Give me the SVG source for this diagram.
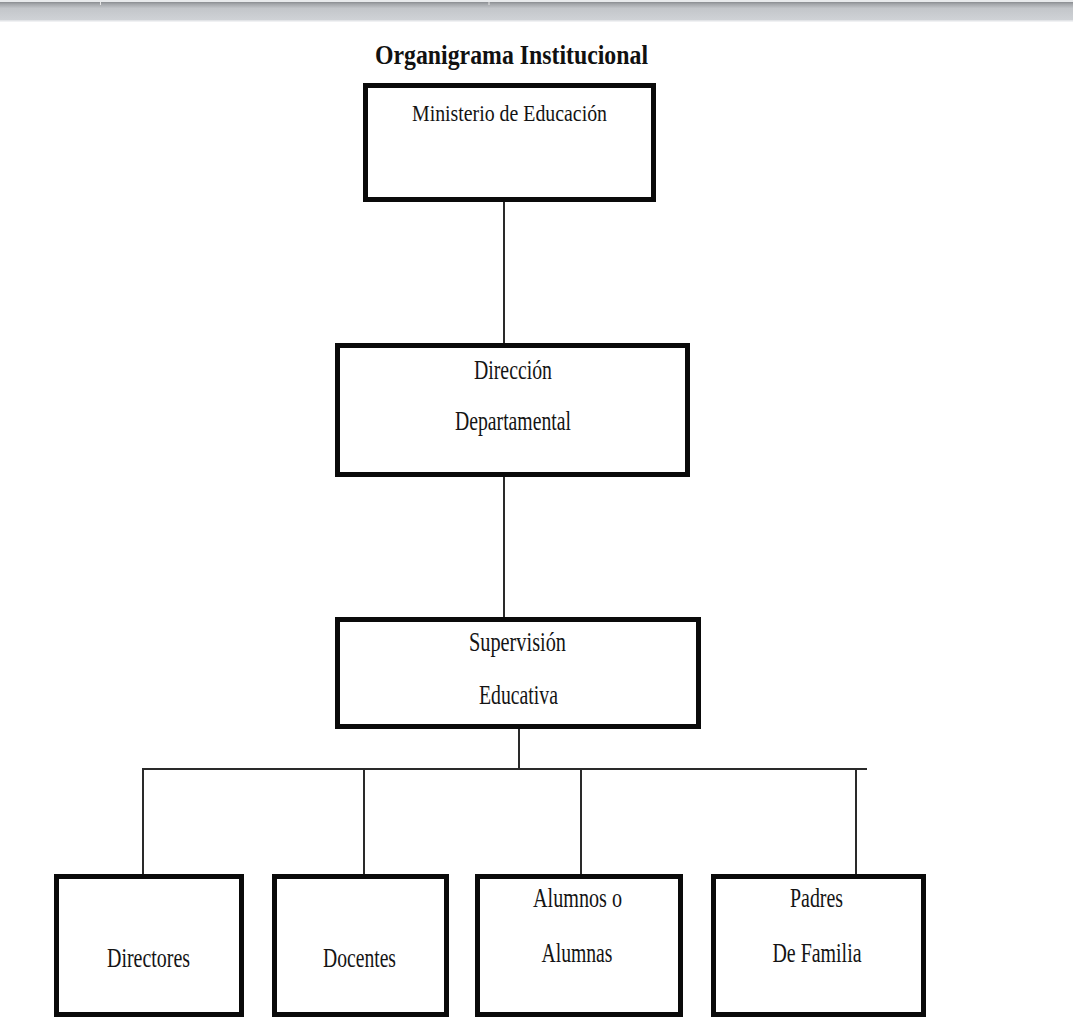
<svg xmlns="http://www.w3.org/2000/svg" width="1073" height="1018" viewBox="0 0 1073 1018">
<style>
  .box { fill: #ffffff; stroke: #0a0a0a; stroke-width: 5; }
  .lbl { font-family: "Liberation Serif", "Times New Roman", serif; font-size: 27px; fill: #141414; text-anchor: middle; }
  .title { font-family: "Liberation Serif", "Times New Roman", serif; font-size: 28px; font-weight: bold; fill: #111111; text-anchor: middle; }
  .conn { stroke: #2a2a2a; stroke-width: 2; fill: none; }
</style>
<defs>
  <linearGradient id="barGrad" x1="0" y1="0" x2="0" y2="1">
    <stop offset="0" stop-color="#8a8d91"/>
    <stop offset="0.12" stop-color="#a4a7ab"/>
    <stop offset="0.35" stop-color="#c3c6ca"/>
    <stop offset="1" stop-color="#cfd2d6"/>
  </linearGradient>
</defs>
<rect x="0" y="0" width="1073" height="1018" fill="#ffffff"/>
<g id="topbar">
  <rect x="0" y="0" width="1073" height="2" fill="#e8eaec"/>
  <rect x="0" y="2" width="1073" height="18" fill="url(#barGrad)"/>
  <rect x="0" y="20" width="1073" height="1.5" fill="#e2e4e7"/>
  <rect x="100" y="2" width="1" height="3" fill="#e6e6e6"/>
  <rect x="488.5" y="2" width="1" height="3" fill="#e6e6e6"/>
</g>
<g id="title">
  <text class="title" x="511.5" y="64" textLength="273" lengthAdjust="spacingAndGlyphs">Organigrama Institucional</text>
</g>
<g id="connectors">
  <line class="conn" x1="504" y1="202" x2="504" y2="343"/>
  <line class="conn" x1="504" y1="477" x2="504" y2="617"/>
  <line class="conn" x1="519" y1="729" x2="519" y2="769"/>
  <line class="conn" x1="142" y1="769" x2="867" y2="769"/>
  <line class="conn" x1="143" y1="769" x2="143" y2="874"/>
  <line class="conn" x1="364" y1="769" x2="364" y2="874"/>
  <line class="conn" x1="581" y1="769" x2="581" y2="874"/>
  <line class="conn" x1="856" y1="769" x2="856" y2="874"/>
</g>
<g id="ministerio">
  <rect class="box" x="365.5" y="85.5" width="288" height="114"/>
  <text class="lbl" x="509.5" y="121" style="font-size:24px" textLength="195" lengthAdjust="spacingAndGlyphs">Ministerio de Educación</text>
</g>
<g id="direccion">
  <rect class="box" x="337.5" y="345.5" width="350" height="129"/>
  <text class="lbl" x="513" y="379" textLength="78" lengthAdjust="spacingAndGlyphs">Dirección</text>
  <text class="lbl" x="513" y="430" textLength="116" lengthAdjust="spacingAndGlyphs">Departamental</text>
</g>
<g id="supervision">
  <rect class="box" x="337.5" y="619.5" width="361" height="107"/>
  <text class="lbl" x="517.5" y="651" textLength="97" lengthAdjust="spacingAndGlyphs">Supervisión</text>
  <text class="lbl" x="518.5" y="704" textLength="79" lengthAdjust="spacingAndGlyphs">Educativa</text>
</g>
<g id="directores">
  <rect class="box" x="56.5" y="876.5" width="185" height="138"/>
  <text class="lbl" x="148.5" y="967" textLength="83" lengthAdjust="spacingAndGlyphs">Directores</text>
</g>
<g id="docentes">
  <rect class="box" x="274.5" y="876.5" width="172" height="138"/>
  <text class="lbl" x="359.5" y="967" textLength="73" lengthAdjust="spacingAndGlyphs">Docentes</text>
</g>
<g id="alumnos">
  <rect class="box" x="477.5" y="876.5" width="203" height="138"/>
  <text class="lbl" x="577.5" y="907" textLength="89" lengthAdjust="spacingAndGlyphs">Alumnos o</text>
  <text class="lbl" x="577" y="962" textLength="71" lengthAdjust="spacingAndGlyphs">Alumnas</text>
</g>
<g id="padres">
  <rect class="box" x="713.5" y="876.5" width="210" height="138"/>
  <text class="lbl" x="816.5" y="907" textLength="53" lengthAdjust="spacingAndGlyphs">Padres</text>
  <text class="lbl" x="817" y="962" textLength="89" lengthAdjust="spacingAndGlyphs">De Familia</text>
</g>
</svg>
